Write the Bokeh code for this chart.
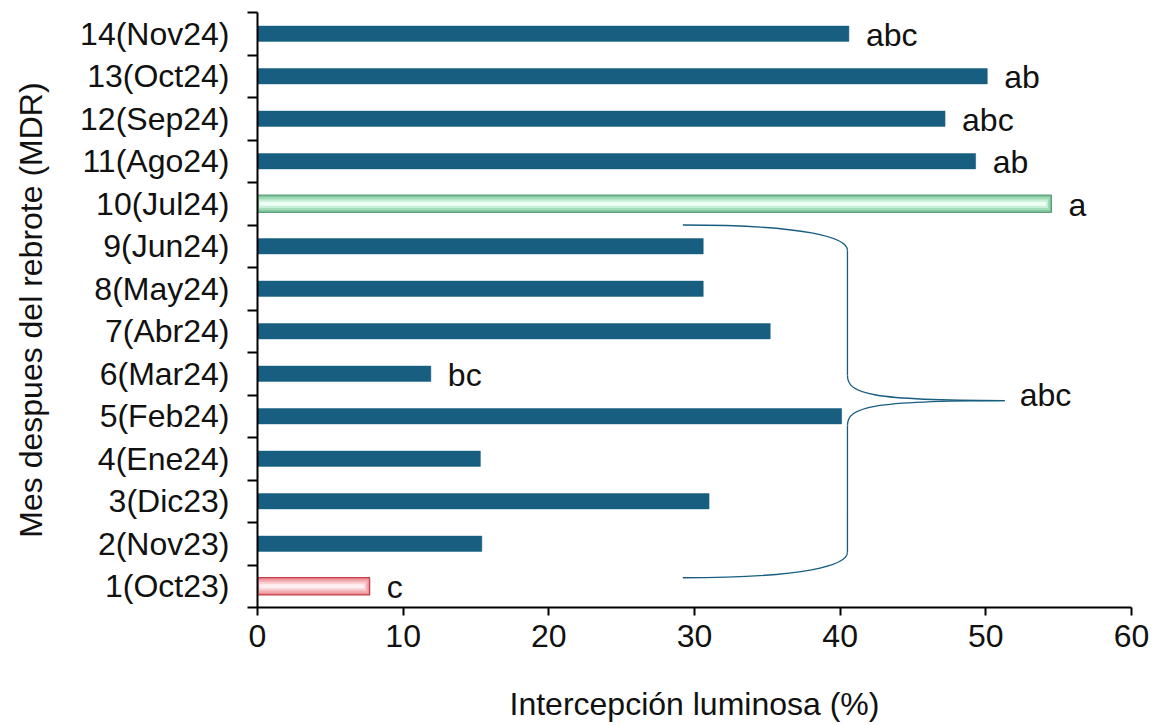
from bokeh.plotting import figure
from bokeh.models import FixedTicker, Range1d, ColumnDataSource
from bokeh.core.properties import value
from bokeh.embed import file_html
from bokeh.resources import INLINE

# Months after regrowth (MDR) and light interception (%)
meses = ["1(Oct23)", "2(Nov23)", "3(Dic23)", "4(Ene24)", "5(Feb24)", "6(Mar24)",
         "7(Abr24)", "8(May24)", "9(Jun24)", "10(Jul24)", "11(Ago24)", "12(Sep24)",
         "13(Oct24)", "14(Nov24)"]
mdr = list(range(1, 15))
intercepcion = [7.7, 15.4, 31.0, 15.3, 40.1, 11.9, 35.2, 30.6, 30.6, 54.5,
                49.3, 47.2, 50.1, 40.6]
letras = ["c", "", "", "", "", "bc", "", "", "", "a", "ab", "abc", "ab", "abc"]

# months 2..9 share one letter group, shown with a brace
grupo_letra = "abc"
llave_x_inicio = 29.2
llave_x_medio = 40.5
llave_x_punta = 51.3
llave_y_sup = 9.5
llave_y_inf = 1.2
llave_y_punta = 5.37

x_ticks = [0, 10, 20, 30, 40, 50, 60]

FONT = "Liberation Sans"
FS = "32px"
AZUL = "#175e80"
TXT = "#111111"

p = figure(width=1157, height=725, output_backend="svg", toolbar_location=None,
           x_range=Range1d(0, 60), y_range=Range1d(0.5, 14.5),
           min_border_left=257, min_border_right=26, min_border_top=12,
           min_border_bottom=118)
p.outline_line_color = None
p.grid.visible = False
p.background_fill_color = "white"
p.border_fill_color = "white"

# regular bars
reg = [i for i in range(14) if mdr[i] not in (1, 10)]
src = ColumnDataSource(dict(y=[mdr[i] for i in reg], v=[intercepcion[i] for i in reg]))
p.hbar(y="y", left=0, right="v", height=0.36, source=src, fill_color=AZUL,
       line_color=AZUL, line_width=0.5)

# highlighted bars with a bevelled look (highest and lowest)
def bevel_bar(idx, layers):
    y = mdr[idx]
    v = intercepcion[idx]
    for k, (h, fill, line) in enumerate(layers):
        inset = 0.12 * k
        p.hbar(y=[y], left=[0.05 * k], right=[v - inset], height=h,
               fill_color=fill, line_color=line, line_width=1.2 if k == 0 else 0)

bevel_bar(9, [(0.41, "#7fc79c", "#5f9f7a"), (0.31, "#a3dbb9", None),
              (0.2, "#c8efd7", None), (0.09, "#effff5", None)])
bevel_bar(0, [(0.41, "#ec8f96", "#c23e4a"), (0.31, "#f3adb2", None),
              (0.2, "#f9d0d3", None), (0.09, "#fff1f2", None)])

# significance letters next to bars
lab = [i for i in range(14) if letras[i]]
lsrc = ColumnDataSource(dict(x=[intercepcion[i] for i in lab],
                             y=[mdr[i] for i in lab],
                             t=[letras[i] for i in lab]))
p.text(x="x", y="y", text="t", source=lsrc, x_offset=17, y_offset=1,
       text_baseline="middle", text_font=value(FONT), text_font_size=FS,
       text_color=TXT)

# brace grouping months 2..9: top arc, shaft, tip arcs, shaft, bottom arc
LW = 1.3
p.bezier(x0=[llave_x_inicio], y0=[llave_y_sup], x1=[llave_x_medio], y1=[llave_y_sup - 0.6],
         cx0=[llave_x_inicio + 8.5], cy0=[llave_y_sup], cx1=[llave_x_medio], cy1=[llave_y_sup - 0.3],
         line_color=AZUL, line_width=LW)
p.segment(x0=[llave_x_medio], y0=[llave_y_sup - 0.6], x1=[llave_x_medio], y1=[llave_y_punta + 0.59],
          line_color=AZUL, line_width=LW)
p.bezier(x0=[llave_x_medio], y0=[llave_y_punta + 0.59], x1=[llave_x_punta], y1=[llave_y_punta],
         cx0=[llave_x_medio], cy0=[llave_y_punta + 0.15], cx1=[llave_x_medio + 1.6], cy1=[llave_y_punta],
         line_color=AZUL, line_width=LW)
p.bezier(x0=[llave_x_punta], y0=[llave_y_punta], x1=[llave_x_medio], y1=[llave_y_punta - 0.59],
         cx0=[llave_x_medio + 1.6], cy0=[llave_y_punta], cx1=[llave_x_medio], cy1=[llave_y_punta - 0.15],
         line_color=AZUL, line_width=LW)
p.segment(x0=[llave_x_medio], y0=[llave_y_punta - 0.59], x1=[llave_x_medio], y1=[llave_y_inf + 0.6],
          line_color=AZUL, line_width=LW)
p.bezier(x0=[llave_x_medio], y0=[llave_y_inf + 0.6], x1=[llave_x_inicio], y1=[llave_y_inf],
         cx0=[llave_x_medio], cy0=[llave_y_inf + 0.3], cx1=[llave_x_inicio + 8.5], cy1=[llave_y_inf],
         line_color=AZUL, line_width=LW)
p.text(x=[llave_x_punta], y=[llave_y_punta], text=[grupo_letra], x_offset=15, y_offset=-6,
       text_baseline="middle", text_font=value(FONT), text_font_size=FS, text_color=TXT)

# axes
xa = p.xaxis[0]
xa.ticker = FixedTicker(ticks=x_ticks)
xa.axis_label = "Intercepción luminosa (%)"
xa.axis_line_width = 2
xa.axis_line_color = "black"
xa.major_tick_in = 0
xa.major_tick_out = 8
xa.major_tick_line_width = 2
xa.minor_tick_line_color = None
xa.major_label_standoff = 9
xa.axis_label_standoff = 36

ya = p.yaxis[0]
ya.ticker = FixedTicker(ticks=mdr, minor_ticks=[i + 0.5 for i in range(15)])
ya.major_label_overrides = {m: t for m, t in zip(mdr, meses)}
ya.axis_label = "Mes despues del rebrote (MDR)"
ya.axis_line_width = 2
ya.axis_line_color = "black"
ya.major_tick_in = 0
ya.major_tick_out = 0
ya.minor_tick_in = 0
ya.minor_tick_out = 10
ya.minor_tick_line_width = 2
ya.minor_tick_line_color = "black"
ya.major_label_standoff = 18
ya.axis_label_standoff = 28

for ax in (xa, ya):
    ax.major_label_text_font = FONT
    ax.major_label_text_font_size = FS
    ax.major_label_text_color = TXT
    ax.axis_label_text_font = FONT
    ax.axis_label_text_font_size = FS
    ax.axis_label_text_font_style = "normal"
    ax.axis_label_text_color = TXT

open("out.html", "w").write(file_html(p, INLINE))
